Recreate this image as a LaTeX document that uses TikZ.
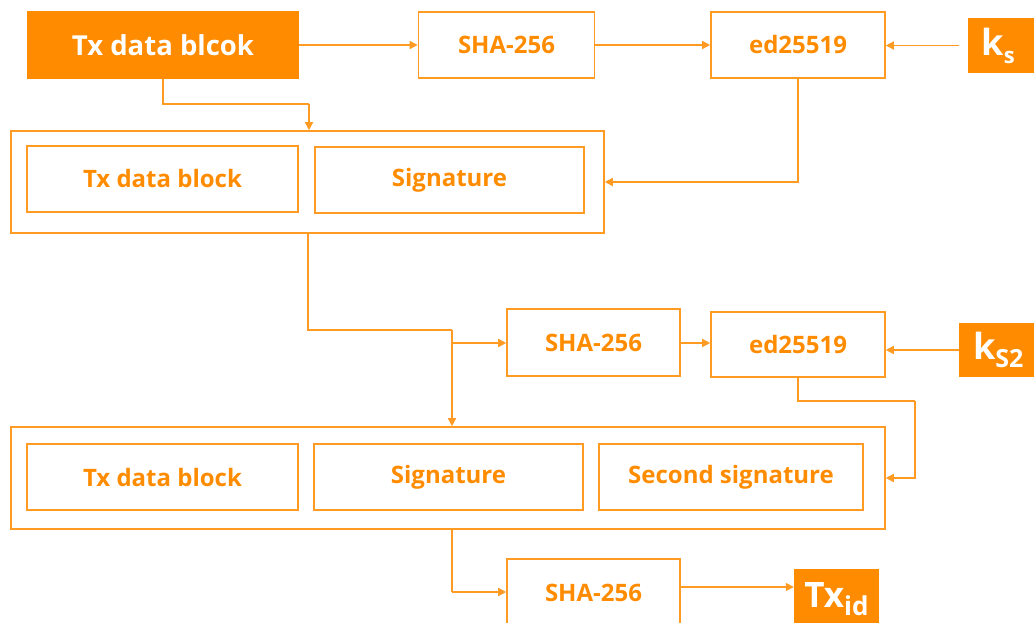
\documentclass[tikz,border=0pt]{standalone}
\usepackage{fontspec}
\setmainfont{Open Sans}
\usetikzlibrary{arrows.meta,calc}
\definecolor{org}{HTML}{FF8C00}
\definecolor{ln}{HTML}{FF9A22}
\tikzset{
  box/.style={draw=ln,line width=1.6pt,rectangle,inner sep=0pt,text=org,font=\bfseries\fontsize{24}{28}\selectfont},
  fbox/.style={fill=org,rectangle,inner sep=0pt,text=white,font=\bfseries\fontsize{27.5}{32}\selectfont},
  grp/.style={draw=ln,line width=1.6pt,rectangle,inner sep=0pt},
  arr/.style={draw=ln,line width=1.6pt,-{Triangle[length=8pt,width=8pt]}},
  ln/.style={draw=ln,line width=1.6pt},
}
\newcommand{\sbx}[2]{\raisebox{-0.22em}{\fontsize{#1}{#1}\selectfont #2}}
\begin{document}
\begin{tikzpicture}[x=1pt,y=-1pt]
\useasboundingbox (0,0) rectangle (1034,623);
% top row
\node[fbox,minimum width=272pt,minimum height=68pt] (tx) at (163,45) {Tx data blcok};
\node[box,minimum width=176pt,minimum height=66pt] (sha1) at (506.5,45) {SHA-256};
\node[box,minimum width=174pt,minimum height=66pt] (ed1) at (798,45) {ed25519};
\node[fbox,minimum width=70pt,minimum height=55pt,anchor=west,font=\bfseries\fontsize{36}{40}\selectfont] (ks) at (968,45.5) {k\sbx{22}{s}\hspace*{10pt}};
% group 1
\node[grp,minimum width=593pt,minimum height=102pt] (g1) at (307.5,182) {};
\node[box,minimum width=271pt,minimum height=66pt] (g1a) at (162.5,179) {Tx data block};
\node[box,minimum width=269pt,minimum height=66pt] (g1b) at (449.5,180) {Signature};
% middle row
\node[box,minimum width=173pt,minimum height=67pt] (sha2) at (593.5,342.5) {SHA-256};
\node[box,minimum width=174pt,minimum height=65pt] (ed2) at (798,344.5) {ed25519};
\node[fbox,minimum width=80pt,minimum height=54pt,anchor=west,font=\bfseries\fontsize{36}{40}\selectfont] (ks2) at (959,350) {k\sbx{25}{S2}\hspace*{2pt}};
% group 2
\node[grp,minimum width=874pt,minimum height=102pt] (g2) at (448,478) {};
\node[box,minimum width=271pt,minimum height=66pt] (g2a) at (162.5,477) {Tx data block};
\node[box,minimum width=269pt,minimum height=66pt] (g2b) at (448.5,477) {Signature};
\node[box,minimum width=264pt,minimum height=66pt] (g2c) at (731,477) {Second signature};
% bottom row
\node[box,minimum width=173pt,minimum height=68pt] (sha3) at (593.5,593) {SHA-256};
\node[fbox,minimum width=85pt,minimum height=60pt,font=\bfseries\fontsize{35}{40}\selectfont] (txid) at (836.5,599) {Tx\sbx{26}{id}};
% coordinates
\coordinate (c1) at (163,104);
\coordinate (c2) at (309,104);
\coordinate (c3) at (308,330);
\coordinate (c4) at (452,330);
\coordinate (c5) at (452,343);
\coordinate (c6) at (798,401);
\coordinate (c7) at (915,401);
\coordinate (c8) at (452,592);
\coordinate (ksin) at (959,45.5);
\coordinate (ks2in) at (959,350);
% connectors
\draw[arr] (tx.east) -- (tx.east -| sha1.west);
\draw[arr] (sha1.east) -- (sha1.east -| ed1.west);
\draw[arr] (ksin) -- (ksin -| ed1.east);
\draw[ln] (tx.south) -- (c1) -- (c2);
\draw[arr] (c2) -- (c2 |- g1.north);
\draw[arr] (ed1.south) |- (g1.east);
\draw[ln] (g1.south -| c3) -- (c3) -- (c4);
\draw[arr] (c4) -- (c4 |- g2.north);
\draw[arr] (c5) -- (c5 -| sha2.west);
\draw[arr] (sha2.east |- c5) -- (c5 -| ed2.west);
\draw[arr] (ks2in) -- (ks2in -| ed2.east);
\draw[ln] (ed2.south) -- (c6) -- (c7);
\draw[arr] (c7) |- (g2.east);
\draw[ln] (g2.south -| c8) -- (c8);
\draw[arr] (c8) -- (c8 -| sha3.west);
\draw[arr] (sha3.east |- 0,587) -- (txid.west |- 0,587);
\end{tikzpicture}
\end{document}
